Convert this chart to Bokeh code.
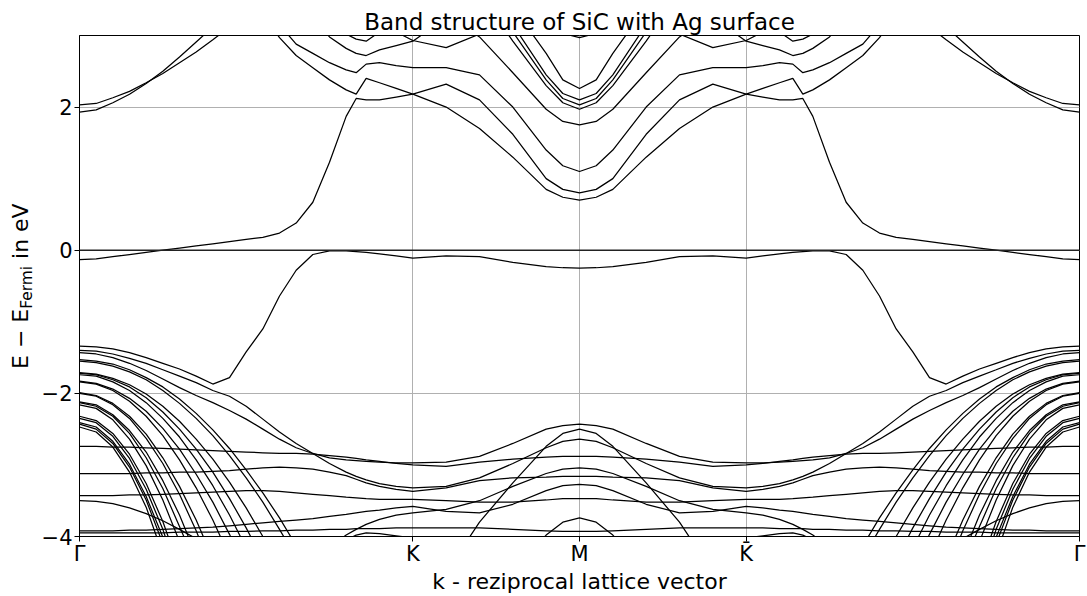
import math
from bokeh.plotting import figure
from bokeh.models import Range1d, FixedTicker, Span, Div
from bokeh.layouts import row
from bokeh.embed import file_html
from bokeh.resources import INLINE

# k-path samples from Gamma (0) over K (2) to M (3); the path M -> K' -> Gamma
# is the mirror image of the first half.
k_half = [0.0, 0.1, 0.2, 0.3, 0.4, 0.5, 0.6,
          0.7, 0.8, 0.9, 1.0, 1.1, 1.2, 1.3,
          1.4, 1.5, 1.6, 1.66, 1.72, 1.8, 1.9,
          2.0, 2.2, 2.4, 2.6, 2.8, 2.9, 3.0]

k_ticks = [0, 2, 3, 4, 6]
k_tick_labels = ["Γ", "K", "M", "K\u0304", "Γ"]
e_ticks = [-4, -2, 0, 2]
e_tick_labels = ["\u22124", "\u22122", "0", "2"]

# ---- conduction side (eV relative to E_Fermi) ----
surf = [-0.13, -0.12, -0.09, -0.06, -0.03, 0.00, 0.03,
        0.06, 0.09, 0.12, 0.15, 0.18, 0.24, 0.38,
        0.67, 1.23, 1.87, 2.12, 2.10, 2.10, 2.14,
        2.18, 2.32, 2.10, 1.62, 1.00, 0.85, 0.80]
c_a = [3.8, 3.8, 3.8, 3.8, 3.8, 3.8, 3.8,
       3.8, 3.8, 3.8, 3.6, 3.3, 2.97, 2.72,
       2.55, 2.38, 2.24, 2.18, 2.40, 2.34, 2.26,
       2.18, 2.00, 1.70, 1.30, 0.85, 0.74, 0.70]
c_b = [3.8, 3.8, 3.8, 3.8, 3.8, 3.8, 3.8,
       3.8, 3.8, 3.8, 3.8, 3.5, 3.15, 2.88,
       2.75, 2.62, 2.52, 2.48, 2.60, 2.62, 2.58,
       2.55, 2.55, 2.45, 2.00, 1.40, 1.18, 1.10]
c_c = [3.8, 3.8, 3.8, 3.8, 3.8, 3.8, 3.8,
       3.8, 3.8, 3.8, 3.8, 3.8, 3.8, 3.6,
       3.25, 2.98, 2.82, 2.75, 2.72, 2.80, 2.86,
       2.92, 3.25, 3.6, 3.8, 3.8, 3.8, 3.8]
c_d = [3.8, 3.8, 3.8, 3.8, 3.8, 3.8, 3.8,
       3.8, 3.8, 3.8, 3.8, 3.8, 3.8, 3.8,
       3.8, 3.3, 3.02, 2.95, 2.92, 3.05, 3.3,
       3.6, 3.8, 3.8, 3.8, 3.8, 3.8, 3.8]
c_e = [3.8, 3.8, 3.8, 3.8, 3.8, 3.8, 3.8,
       3.8, 3.8, 3.8, 3.8, 3.8, 3.8, 3.8,
       3.8, 3.8, 3.8, 3.8, 3.8, 3.3, 3.05,
       2.93, 2.83, 3.02, 3.4, 3.8, 3.8, 3.8]
c_f = [3.8, 3.8, 3.8, 3.8, 3.8, 3.8, 3.8,
       3.8, 3.8, 3.8, 3.8, 3.8, 3.8, 3.8,
       3.8, 3.8, 3.8, 3.8, 3.8, 3.8, 3.8,
       3.8, 3.3, 2.98, 2.48, 1.97, 1.80, 1.75]
c_g = [3.8, 3.8, 3.8, 3.8, 3.8, 3.8, 3.8,
       3.8, 3.8, 3.8, 3.8, 3.8, 3.8, 3.8,
       3.8, 3.8, 3.8, 3.8, 3.8, 3.8, 3.8,
       3.8, 3.8, 3.6, 2.92, 2.30, 2.06, 1.97]
c_h = [3.8, 3.8, 3.8, 3.8, 3.8, 3.8, 3.8,
       3.8, 3.8, 3.8, 3.8, 3.8, 3.8, 3.8,
       3.8, 3.8, 3.8, 3.8, 3.8, 3.8, 3.8,
       3.8, 3.8, 3.8, 3.05, 2.38, 2.12, 2.03]
c_i = [3.8, 3.8, 3.8, 3.8, 3.8, 3.8, 3.8,
       3.8, 3.8, 3.8, 3.8, 3.8, 3.8, 3.8,
       3.8, 3.8, 3.8, 3.8, 3.8, 3.8, 3.8,
       3.8, 3.8, 3.8, 3.15, 2.45, 2.19, 2.10]
c_j = [3.8, 3.8, 3.8, 3.8, 3.8, 3.8, 3.8,
       3.8, 3.8, 3.8, 3.8, 3.8, 3.8, 3.8,
       3.8, 3.8, 3.8, 3.8, 3.8, 3.8, 3.8,
       3.8, 3.8, 3.8, 3.4, 2.75, 2.38, 2.26]
c_k = [3.8, 3.8, 3.8, 3.8, 3.8, 3.8, 3.8,
       3.8, 3.8, 3.8, 3.8, 3.8, 3.8, 3.8,
       3.8, 3.8, 3.8, 3.8, 3.8, 3.8, 3.8,
       3.8, 3.8, 3.8, 3.8, 3.2, 3.03, 2.97]
g_a = [2.03, 2.05, 2.13, 2.22, 2.34, 2.47, 2.62,
       2.77, 2.94, 3.12, 3.3, 3.6, 3.8, 3.8,
       3.8, 3.8, 3.8, 3.8, 3.8, 3.8, 3.8,
       3.8, 3.8, 3.8, 3.8, 3.8, 3.8, 3.8]
g_b = [1.93, 1.96, 2.06, 2.18, 2.33, 2.50, 2.70,
       2.91, 3.12, 3.35, 3.6, 3.8, 3.8, 3.8,
       3.8, 3.8, 3.8, 3.8, 3.8, 3.8, 3.8,
       3.8, 3.8, 3.8, 3.8, 3.8, 3.8, 3.8]

# ---- valence side ----
v0 = [-1.34, -1.35, -1.38, -1.43, -1.50, -1.58, -1.66,
      -1.76, -1.87, -1.78, -1.42, -1.10, -0.64, -0.28,
      -0.06, -0.01, -0.01, -0.02, -0.03, -0.05, -0.08,
      -0.11, -0.08, -0.09, -0.17, -0.23, -0.245, -0.25]
v1 = [-1.40, -1.41, -1.45, -1.51, -1.58, -1.67, -1.76,
      -1.85, -1.96, -2.04, -2.18, -2.36, -2.54, -2.70,
      -2.84, -2.98, -3.10, -3.16, -3.21, -3.26, -3.30,
      -3.32, -3.30, -3.18, -2.98, -2.76, -2.67, -2.64]
v2 = [-1.43, -1.45, -1.50, -1.58, -1.68, -1.80, -1.92,
      -2.03, -2.13, -2.24, -2.36, -2.50, -2.64, -2.76,
      -2.84, -2.90, -2.93, -2.94, -2.95, -2.96, -2.97,
      -2.97, -2.96, -2.88, -2.70, -2.50, -2.45, -2.43]
v3 = [-2.74, -2.74, -2.75, -2.75, -2.76, -2.77, -2.78,
      -2.79, -2.80, -2.81, -2.82, -2.83, -2.84, -2.84,
      -2.85, -2.87, -2.89, -2.91, -2.93, -2.95, -2.98,
      -3.00, -3.02, -2.96, -2.92, -2.89, -2.88, -2.88]
v4 = [-3.12, -3.12, -3.12, -3.12, -3.11, -3.11, -3.10,
      -3.10, -3.09, -3.08, -3.06, -3.04, -3.03, -3.04,
      -3.06, -3.10, -3.15, -3.20, -3.25, -3.30, -3.34,
      -3.37, -3.32, -3.22, -3.18, -3.17, -3.16, -3.16]
v5 = [-3.43, -3.43, -3.43, -3.42, -3.42, -3.41, -3.40,
      -3.39, -3.38, -3.37, -3.36, -3.36, -3.37, -3.39,
      -3.41, -3.43, -3.45, -3.46, -3.47, -3.48, -3.48,
      -3.48, -3.50, -3.52, -3.52, -3.49, -3.47, -3.47]
v6 = [-3.50, -3.51, -3.54, -3.60, -3.68, -3.78, -3.90,
      -4.03, -4.20, -4.40, -4.60, -4.70, -4.70, -4.60,
      -4.40, -4.15, -3.98, -3.90, -3.83, -3.76, -3.70,
      -3.67, -3.62, -3.50, -3.30, -3.12, -3.06, -3.04]
v7 = [-3.92, -3.92, -3.92, -3.91, -3.91, -3.90, -3.89,
      -3.88, -3.87, -3.85, -3.83, -3.81, -3.79, -3.77,
      -3.75, -3.72, -3.69, -3.67, -3.65, -3.63, -3.60,
      -3.58, -3.65, -3.67, -3.55, -3.36, -3.29, -3.27]
v8 = [-3.95, -3.95, -3.95, -3.95, -3.95, -3.95, -3.94,
      -3.94, -3.94, -3.93, -3.93, -3.92, -3.92, -3.91,
      -3.91, -3.90, -3.90, -3.89, -3.89, -3.89, -3.88,
      -3.88, -3.88, -3.88, -3.90, -3.92, -3.93, -3.93]
v9 = [-5.0, -5.0, -5.0, -5.0, -5.0, -5.0, -5.0,
      -5.0, -5.0, -5.0, -5.0, -5.0, -5.0, -5.0,
      -5.0, -5.0, -5.0, -5.0, -5.0, -5.0, -5.0,
      -4.8, -4.5, -3.80, -3.25, -2.74, -2.56, -2.50]
v10 = [-5.0, -5.0, -5.0, -5.0, -5.0, -5.0, -5.0,
       -5.0, -5.0, -5.0, -5.0, -5.0, -5.0, -5.0,
       -5.0, -5.0, -5.0, -5.0, -5.0, -5.0, -5.0,
       -5.0, -5.0, -5.0, -4.5, -3.98, -3.80, -3.74]
v11 = [-5.0, -5.0, -5.0, -5.0, -5.0, -5.0, -5.0,
       -5.0, -5.0, -5.0, -5.0, -5.0, -5.0, -5.0,
       -5.0, -4.3, -4.05, -3.98, -3.95, -3.96, -3.99,
       -4.02, -4.10, -4.30, -4.6, -5.0, -5.0, -5.0]

# steeply dispersing bands around Gamma
f1 = [-1.53, -1.55, -1.59, -1.67, -1.78, -1.91, -2.08,
      -2.28, -2.51, -2.77, -3.07, -3.39, -3.74, -4.13,
      -4.54, -5.0, -5.0, -5.0, -5.0, -5.0, -5.0,
      -5.0, -5.0, -5.0, -5.0, -5.0, -5.0, -5.0]
f2 = [-1.55, -1.57, -1.62, -1.70, -1.81, -1.96, -2.14,
      -2.35, -2.59, -2.87, -3.18, -3.52, -3.90, -4.30,
      -4.74, -5.0, -5.0, -5.0, -5.0, -5.0, -5.0,
      -5.0, -5.0, -5.0, -5.0, -5.0, -5.0, -5.0]
f3 = [-1.71, -1.73, -1.79, -1.88, -2.01, -2.18, -2.39,
      -2.64, -2.92, -3.24, -3.60, -4.00, -4.43, -4.90,
      -5.0, -5.0, -5.0, -5.0, -5.0, -5.0, -5.0,
      -5.0, -5.0, -5.0, -5.0, -5.0, -5.0, -5.0]
f4 = [-1.72, -1.74, -1.81, -1.91, -2.06, -2.26, -2.50,
      -2.78, -3.10, -3.47, -3.88, -4.33, -4.80, -5.0,
      -5.0, -5.0, -5.0, -5.0, -5.0, -5.0, -5.0,
      -5.0, -5.0, -5.0, -5.0, -5.0, -5.0, -5.0]
f5 = [-1.74, -1.76, -1.84, -1.96, -2.13, -2.35, -2.61,
      -2.93, -3.29, -3.70, -4.16, -4.65, -5.0, -5.0,
      -5.0, -5.0, -5.0, -5.0, -5.0, -5.0, -5.0,
      -5.0, -5.0, -5.0, -5.0, -5.0, -5.0, -5.0]
f6 = [-1.83, -1.86, -1.94, -2.07, -2.25, -2.49, -2.78,
      -3.13, -3.52, -3.97, -4.47, -5.0, -5.0, -5.0,
      -5.0, -5.0, -5.0, -5.0, -5.0, -5.0, -5.0,
      -5.0, -5.0, -5.0, -5.0, -5.0, -5.0, -5.0]
f7 = [-1.84, -1.87, -1.96, -2.11, -2.32, -2.59, -2.93,
      -3.32, -3.77, -4.28, -4.80, -5.0, -5.0, -5.0,
      -5.0, -5.0, -5.0, -5.0, -5.0, -5.0, -5.0,
      -5.0, -5.0, -5.0, -5.0, -5.0, -5.0, -5.0]
f8 = [-1.99, -2.03, -2.14, -2.32, -2.57, -2.90, -3.30,
      -3.77, -4.31, -4.90, -5.0, -5.0, -5.0, -5.0,
      -5.0, -5.0, -5.0, -5.0, -5.0, -5.0, -5.0,
      -5.0, -5.0, -5.0, -5.0, -5.0, -5.0, -5.0]
f9 = [-2.00, -2.04, -2.16, -2.35, -2.63, -2.98, -3.41,
      -3.92, -4.50, -5.0, -5.0, -5.0, -5.0, -5.0,
      -5.0, -5.0, -5.0, -5.0, -5.0, -5.0, -5.0,
      -5.0, -5.0, -5.0, -5.0, -5.0, -5.0, -5.0]
f10 = [-2.12, -2.16, -2.30, -2.52, -2.82, -3.22, -3.70,
       -4.27, -5.0, -5.0, -5.0, -5.0, -5.0, -5.0,
       -5.0, -5.0, -5.0, -5.0, -5.0, -5.0, -5.0,
       -5.0, -5.0, -5.0, -5.0, -5.0, -5.0, -5.0]
f11 = [-2.13, -2.18, -2.32, -2.56, -2.90, -3.33, -3.86,
       -4.40, -5.0, -5.0, -5.0, -5.0, -5.0, -5.0,
       -5.0, -5.0, -5.0, -5.0, -5.0, -5.0, -5.0,
       -5.0, -5.0, -5.0, -5.0, -5.0, -5.0, -5.0]
f12 = [-2.16, -2.21, -2.37, -2.64, -3.01, -3.49, -4.07,
       -4.80, -5.0, -5.0, -5.0, -5.0, -5.0, -5.0,
       -5.0, -5.0, -5.0, -5.0, -5.0, -5.0, -5.0,
       -5.0, -5.0, -5.0, -5.0, -5.0, -5.0, -5.0]
g1 = [-2.32, -2.38, -2.56, -2.85, -3.26, -3.79, -4.45,
      -5.0, -5.0, -5.0, -5.0, -5.0, -5.0, -5.0,
      -5.0, -5.0, -5.0, -5.0, -5.0, -5.0, -5.0,
      -5.0, -5.0, -5.0, -5.0, -5.0, -5.0, -5.0]
g2 = [-2.35, -2.41, -2.60, -2.91, -3.34, -3.90, -4.60,
      -5.0, -5.0, -5.0, -5.0, -5.0, -5.0, -5.0,
      -5.0, -5.0, -5.0, -5.0, -5.0, -5.0, -5.0,
      -5.0, -5.0, -5.0, -5.0, -5.0, -5.0, -5.0]
g3 = [-2.41, -2.47, -2.67, -2.99, -3.44, -4.01, -4.80,
      -5.0, -5.0, -5.0, -5.0, -5.0, -5.0, -5.0,
      -5.0, -5.0, -5.0, -5.0, -5.0, -5.0, -5.0,
      -5.0, -5.0, -5.0, -5.0, -5.0, -5.0, -5.0]
g4 = [-2.43, -2.50, -2.70, -3.03, -3.49, -4.10, -4.90,
      -5.0, -5.0, -5.0, -5.0, -5.0, -5.0, -5.0,
      -5.0, -5.0, -5.0, -5.0, -5.0, -5.0, -5.0,
      -5.0, -5.0, -5.0, -5.0, -5.0, -5.0, -5.0]
g5 = [-2.47, -2.54, -2.75, -3.10, -3.59, -4.25, -5.0,
      -5.0, -5.0, -5.0, -5.0, -5.0, -5.0, -5.0,
      -5.0, -5.0, -5.0, -5.0, -5.0, -5.0, -5.0,
      -5.0, -5.0, -5.0, -5.0, -5.0, -5.0, -5.0]

bands = [surf, c_a, c_b, c_c, c_d, c_e, c_f, c_g, c_h, c_i, c_j, c_k, g_a, g_b,
         v0, v1, v2, v3, v4, v5, v6, v7, v8, v9, v10, v11,
         f1, f2, f3, f4, f5, f6, f7, f8, f9, f10, f11, f12,
         g1, g2, g3, g4, g5]
for b in bands:
    assert len(b) == len(k_half), len(b)

# full path Gamma-K-M-K'-Gamma (mirror about M)
k_full = k_half + [6 - k for k in k_half[-2::-1]]
xs = [k_full for _ in bands]
ys = [b + b[-2::-1] for b in bands]

FONT = "DejaVu Sans"
LABEL_W = 36  # column holding the rotated energy-axis label

p = figure(width=1087 - LABEL_W, height=596,
           x_range=Range1d(0, 6), y_range=Range1d(-4, 3),
           output_backend="svg", toolbar_location=None,
           min_border_left=79 - LABEL_W, min_border_right=8,
           min_border_top=35, min_border_bottom=60)
p.background_fill_color = "white"
p.border_fill_color = "white"
p.outline_line_color = "black"
p.outline_line_width = 1

p.title.text = "Band structure of SiC with Ag surface"
p.title.align = "center"
p.title.text_font = FONT
p.title.text_font_size = "23px"
p.title.text_font_style = "normal"
p.title.text_color = "black"
p.title.standoff = 2

for g in (p.xgrid, p.ygrid):
    g.grid_line_color = "#b0b0b0"
    g.grid_line_width = 1

p.xaxis.ticker = FixedTicker(ticks=k_ticks)
p.xaxis.major_label_overrides = dict(zip(k_ticks, k_tick_labels))
p.yaxis.ticker = FixedTicker(ticks=e_ticks)
p.yaxis.major_label_overrides = dict(zip(e_ticks, e_tick_labels))
for ax in (p.xaxis, p.yaxis):
    ax.axis_line_color = "black"
    ax.major_tick_line_color = "black"
    ax.major_tick_in = 0
    ax.major_tick_out = 5
    ax.minor_tick_in = 0
    ax.minor_tick_out = 0
    ax.major_label_text_font = FONT
    ax.major_label_text_font_size = "21px"
    ax.major_label_text_color = "black"
p.xaxis.major_label_standoff = 0
p.yaxis.major_label_standoff = 2

p.xaxis.axis_label = "k - reziprocal lattice vector"
p.xaxis.axis_label_text_font = FONT
p.xaxis.axis_label_text_font_size = "22px"
p.xaxis.axis_label_text_font_style = "normal"
p.xaxis.axis_label_text_color = "black"
p.xaxis.axis_label_standoff = 0

p.multi_line(xs, ys, line_color="black", line_width=1.25)
p.add_layout(Span(location=0, dimension="width", line_color="#222222", line_width=1.5))

# energy-axis label with a subscript, written upwards beside the axis
ylabel = Div(
    width=LABEL_W, height=596, margin=0,
    text=('<div style="display:inline-block; white-space:nowrap; '
          'font-family:\'DejaVu Sans\'; font-size:22px; line-height:22px; color:black; '
          'transform-origin:0 0; transform:translate(10px, 369px) rotate(-90deg);">'
          'E \u2212 E<span style="font-size:15.4px; position:relative; top:4px;">Fermi</span>'
          ' in eV</div>'))
p.margin = 0

layout = row(ylabel, p, spacing=0)
open("out.html", "w").write(file_html(layout, INLINE))
